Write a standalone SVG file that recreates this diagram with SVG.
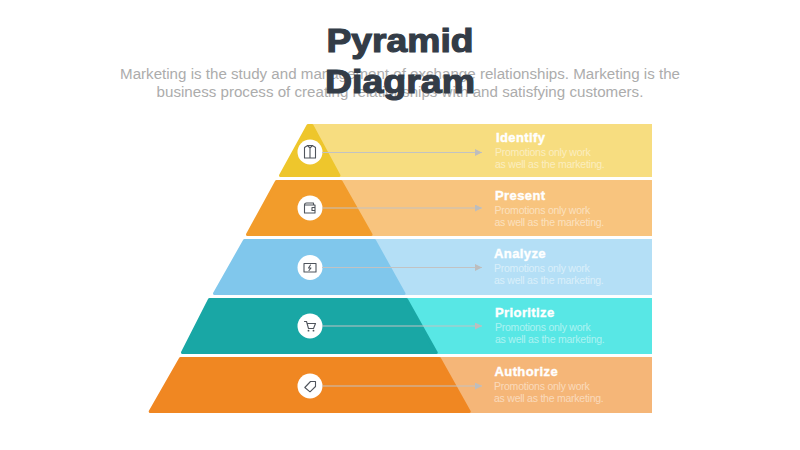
<svg xmlns="http://www.w3.org/2000/svg" width="800" height="450" viewBox="0 0 800 450">
<style>
.title{font:bold 34px "Liberation Sans",Arial,sans-serif;fill:#333c47;stroke:#333c47;stroke-width:1.200;text-anchor:middle}
.sub{font:15.14px "Liberation Sans",Arial,sans-serif;fill:#acacac;text-anchor:middle}
.h{font:bold 13px "Liberation Sans",Arial,sans-serif;fill:#fff;stroke:#fff;stroke-width:.4;letter-spacing:.4px}
.b{font:10.500px "Liberation Sans",Arial,sans-serif;fill:#fff;fill-opacity:.5;letter-spacing:-.24px}
.c{fill:#fff}
.i{fill:none;stroke:#4f545c;stroke-width:1.100;stroke-linejoin:round;stroke-linecap:round}
.t{stroke-width:3;stroke-linejoin:round}
.l{stroke:#c2c2c2;stroke-width:1;fill:none;marker-end:url(#a)}
</style>
<defs><marker id="a" markerUnits="userSpaceOnUse" markerWidth="8" markerHeight="7" refX="7" refY="3.5" orient="auto"><path d="M0 0L7 3.5L0 7z" fill="#bdbdbd"/></marker></defs>
<g id="heading">
<text class="sub" x="400" y="79">Marketing is the study and management of exchange relationships. Marketing is the</text>
<text class="sub" x="400" y="97">business process of creating relationships with and satisfying customers.</text>
<text class="title" x="400" y="52" textLength="147" lengthAdjust="spacingAndGlyphs">Pyramid</text>
<text class="title" x="400" y="93" textLength="150" lengthAdjust="spacingAndGlyphs">Diagram</text>
</g>
<g id="identify">
<path d="M310 124H652V177H310z" fill="#f7dd80"/>
<path class="t" d="M308 125.500H312L339 175.500H280.500z" fill="#eec62c" stroke="#eec62c"/>
<circle class="c" cx="310" cy="152" r="12.500"/>
<path class="i" d="M304.500 147.500L307.500 145.500H312.500L315.500 147.500V158H304.500zM310 148V158M307.500 145.500L310 148L312.500 145.500"/>
<text class="h" x="496" y="142">Identify</text>
<text class="b" x="495" y="156">Promotions only work</text>
<text class="b" x="495" y="168">as well as the marketing.</text>
</g>
<g id="present">
<path d="M340 180H652V236H340z" fill="#f8c47e"/>
<path class="t" d="M276.500 181.500H341L371 234.500H247.500z" fill="#f29c2b" stroke="#f29c2b"/>
<circle class="c" cx="310" cy="208" r="12.500"/>
<path class="i" d="M304.500 205V213H315V205zM304.500 205Q304.500 203 306.500 203H313.500V205M312 207.500H315V210.500H312z"/>
<text class="h" x="495" y="200">Present</text>
<text class="b" x="494.500" y="214">Promotions only work</text>
<text class="b" x="494.500" y="226">as well as the marketing.</text>
</g>
<g id="analyze">
<path d="M370 239H652V295H370z" fill="#b4dff6"/>
<path class="t" d="M244.500 240.500H374.500L404 293.500H214.500z" fill="#80c7ec" stroke="#80c7ec"/>
<circle class="c" cx="310" cy="267.500" r="12.500"/>
<path class="i" d="M304 263.500H316V272H304zM310.500 265L308.500 268H311L309 270.500"/>
<text class="h" x="494" y="258">Analyze</text>
<text class="b" x="494" y="272">Promotions only work</text>
<text class="b" x="494" y="284">as well as the marketing.</text>
</g>
<g id="prioritize">
<path d="M400 298H652V354H400z" fill="#58e7e5"/>
<path class="t" d="M209.500 299.500H406.500L436.200 352.500H182.500z" fill="#19a7a5" stroke="#19a7a5"/>
<circle class="c" cx="310" cy="326" r="12.500"/>
<path class="i" d="M304.500 321.500H306.500L308.500 328.500H313.500L315.500 323.500H307.500"/>
<circle cx="308.500" cy="330.700" r=".9" fill="#4f545c"/><circle cx="313.500" cy="330.700" r=".9" fill="#4f545c"/>
<text class="h" x="495" y="317">Prioritize</text>
<text class="b" x="495" y="331">Promotions only work</text>
<text class="b" x="495" y="343">as well as the marketing.</text>
</g>
<g id="authorize">
<path d="M440 357H652V413H440z" fill="#f5b678"/>
<path class="t" d="M180.500 358.500H439.500L469.200 411.500H150.200z" fill="#f08722" stroke="#f08722"/>
<circle class="c" cx="310" cy="386" r="12.500"/>
<path class="i" d="M304.800 387.500L310.500 381.500H315.500V386.500L310 391.800z"/>
<text class="h" x="494.500" y="376">Authorize</text>
<text class="b" x="494" y="390">Promotions only work</text>
<text class="b" x="494" y="402">as well as the marketing.</text>
</g>
<g id="connectors">
<path class="l" d="M322 152.500H482"/>
<path class="l" d="M322 208H482"/>
<path class="l" d="M322 267.500H482"/>
<path class="l" d="M322 326H482"/>
<path class="l" d="M322 386H482"/>
</g>
</svg>
